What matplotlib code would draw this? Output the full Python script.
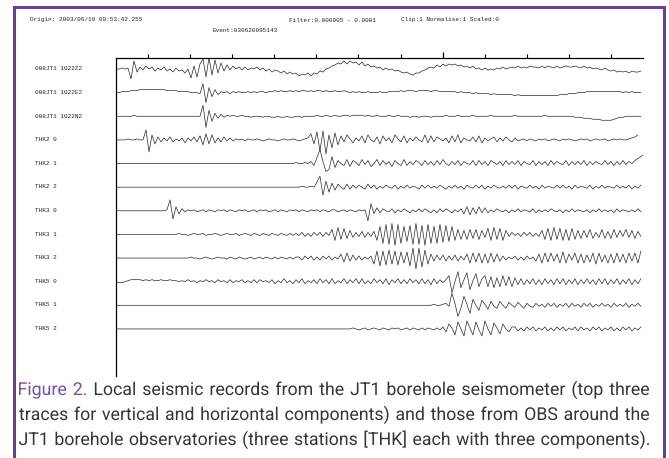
import numpy as np
import matplotlib
matplotlib.use("Agg")
import matplotlib.pyplot as plt
from matplotlib.patches import Rectangle, PathPatch
from matplotlib.textpath import TextPath
from matplotlib.font_manager import FontProperties
from matplotlib.transforms import Affine2D

W, H = 669, 458

# ---------------- header / labels ----------------
header_origin = "Origin: 2003/06/19 09:53:42.255"
header_filter = "Filter:0.000005 - 0.0001"
header_clip = "Clip:1 Normalise:1 Scaled:0"
header_event = "Event:030620095143"

trace_labels = ["008JT1 1022Z2", "008JT1 1022E2", "008JT1 1022N2",
                "THK2 0", "THK2 1", "THK2 2",
                "THK3 0", "THK3 1", "THK3 2",
                "THK5 0", "THK5 1", "THK5 2"]

caption_lines = [
    [("Figure 2.", "purple"), ("Local seismic records from the JT1 borehole seismometer (top three", "text")],
    [("traces for vertical and horizontal components) and those from OBS around the", "text")],
    [("JT1 borehole observatories (three stations [THK] each with three components).", "text")],
]

# time axis (s)
t_start = 2.4
dt = 0.7126
tick_times = [10, 20, 30, 40, 50, 60, 70, 80, 90, 100, 110, 120]
long_tick = 80

# ---------------- traces (amplitude; up = positive) ----------------
tr_jt1_z = [0, 0, 1, 0, 1, -10, 8, -3,
            2, -1, 3, 0, 2, -2, 1, -1, 2, -2, 0, -3, 1, -2, -1, -4, 0,
            -9, 3, -8, 5, 10, -8, 11, -6, 9, -4,
            6, -2, 4, -1, 3, 0, 2, -1, 2, -1, 1,
            0, 2, -1, 1, -2, 0, -3, -1, -2, -4, -2, -5, -3, -5, -4, -7, -5, -6,
            -4, -7, -4, -5, -2, -3, 0, 1, 3, 4, 6, 5,
            8, 5, 8, 6, 7, 4, 7, 3, 5, 2, 3, 1, 2, -1, 1,
            -1, 0, -2, -1, -3, -4, -3, -5, -6, -4,
            -4, -2, -1, 1, 2, 1, 4, 2, 5, 3, 5, 4, 5, 3, 4,
            2, 3, 1, 3, 0, 1, -1, 1, -1, 0, -1, 1, 0, 2, 0, 1, 2, 1, 3, 1,
            2, 1, 3, 2, 2, 1, 3, 1, 3, 2, 1, 3, 1, 2, 3, 2, 2, 3, 2, 1, 3, 1, 2, 0, 1,
            0, -1, 1, -1, -2, -1, -3, -2, -3, -2, -4, -2, -3, -3, -2]

tr_jt1_e = [0, 0, 1, 1, 1, 2, 2, 2, 3, 3, 3, 3, 3, 3, 3,
            3, 3, 2, 2, 2, 2, 1, 1, 1, 1, 0, 0, 0, -1,
            9, -10, 5, -4, 3, -2,
            1, 0, 1, -1, 1, 0, 1, 0, 0, 1, 0, 1, 0, 1, 1, 0, 1, 1, 2, 1, 2, 1, 1, 2, 1, 2,
            1, 2, 2, 1, 2, 1, 2, 2, 1, 2, 1, 1, 2, 1, 1, 2, 1, 0, 1, 0, 1, 0, 0, 1, 0,
            0, 0, 1, 0, 0, 1, 1, 1, 1, 2, 1, 2, 2, 2, 1, 2, 2, 2, 2, 1, 2, 2, 1, 1, 1,
            1, 1, 1, 0, 1, 0, 0, 0, -1, 0, -1, -1, -1, -1, -2, -1, -2, -2, -2, -2, -2, -2,
            -3, -2, -3, -3, -3, -3, -3, -3, -3, -3, -3, -3, -3,
            -3, -3, -2, -2, -2, -1, -1, -1, 0, 0, 0, 1, 1, 1, 1, 1, 1, 1, 1, 1, 1, 1, 1,
            0, 1, 0, 1, 0, 0, 0]

tr_jt1_n = [0, 0, 0, 0, 0, 0, 1, 0, 0, 0, 0, 0, 0, 0, 0, 0, 0, 0, 0, 0,
            0, 0, 0, 0, 0, 0, 0, 0, 0,
            11, -11, 6, -5, 3, -2, 2, -1,
            1, 0, 1, 0, 0, 1, 0, 0, -1, 0, 0, 0, -1, 0, 0, -1, -1, 0, -1, -1,
            0, -1, -1, 0, 0, -1, 0, 0, 0, 0, 1, 0, 0, 1, 0, 0, 1, 0, 0, 1, 1, 0, 1, 1,
            1, 1, 0, 1, 0, 0, 1, 0, 0, 0, 1, 0, 0, 1, 0, 0, 0, -1, 0, 0,
            -1, 0, 0, 0, -1, 0, 0, 0, 0, 1, 0, 0, 0, 1, 0, 0, 0, 0, 1, 0,
            0, 0, 0, 0, 1, 0, 0, 0, 0, 0, 0, 0, 1, 0, 0, 0, 0, 0, 0, 0,
            0, 0, 1, 0, 0, 0, 0, 0, 0, 0,
            0, 0, -1, -1, -1, -2, -2, -2, -3, -3, -3, -4, -4, -4, -4, -3,
            -2, -1, -1, 0, 0, 0, 0, 0, 0]

tr_thk2_0 = [0, 0, 0, 0, 1, 0, 0, 1, 0, 0,
             10, -12, 5, -4, 3,
             -2, 2, -1, 3, -2, 1, -1, 2, -3, 2, -1, 3, -2, 4,
             -5, 6, -4, 5, -3,
             2, -2, 3, -1, 2, -1, 1, 0, 1, -1, 1, 0,
             0, 1, 0, -1, 0, 1, 0, 0, -1, 0, 1, 0, 0, 1, 0, -1, 0, 1, 2,
             6, -4, 8, -11, 9, -14, 5, -8, 7, -5,
             4, -2, 5, 1, -3, 2, -1, 4, -3, 5, 0, -2, 3, -4, 4, -1, 2, -3, 5, 1,
             -2, 4, -3, 2, -1, 3, 0, -2, 5, -3, 4, -2, 3, 1, -1, 2, -3, 4, -2, 5,
             -3, 2, 0, -1, 3, -2, 4, -3, 2, -1, 1, 3, -2, 2, -1, 3, 0, -2, 2, -1,
             0, 1, -1, 1, 0, -1, 1, 0, 1, -1, 0, 1, 0, -1, 1, 0, 1, 0, -1, 0,
             1, 0, 1, -1, 0, 1, 0, 0, 1, -1, 0, 1, 0, 1, 0,
             0, 1, 2, 3, 5]

tr_thk2_1 = [0, 0, 0, 0, 0, 0, 0, 0, 0, 0, 0, 0, 0, 0, 0, 0, 0, 0, 0, 0,
             0, 0, 0, 0, 0, 0, 0, 0, 0, 0, 0, 0, 0, 0, 0, 0, 0, 0, 0, 0,
             0, 0, 0, 0, 0, 0, 0, 0, 0, 0, 0, 0, 0, 0, 0, 0, 0, 0, 0, 0,
             1, 0, 0, 1, 0,
             2, -2, 6, 14, 2, -8, -6, 7, -4,
             3, 0, -2, 4, -3, 3, 1, -2, 4, -1, 3, -3, 0, 4, -2, 3, -1, 2, -3, 3,
             0, -2, 4, -2, 2, -1, 3, 1, -2, 3, -1, 2, -2, 3, -1, 4, 0, -2, 2, -1,
             3, -2, 2, 0, -1, 3, -2, 3, -1, 2, -2, 3, 1, -1, 2, -2, 3, -1, 2, -1,
             3, -2, 2, 0, -1, 3, -2, 2, -1, 2, -2, 3, -1, 2, 0, -1, 3, -2, 2, -1,
             2, -1, 3, -2, 2, -1, 2, 0, -1, 3, -1, 2, -2, 2, -1, 3, -1, 2, 0, 3,
             5, 7, 9]

tr_thk2_2 = [0, 0, 0, 0, 0, 0, 0, 0, 0, 0, 0, 0, 0, 0, 0, 0, 0, 0, 0, 0,
             0, 0, 0, 0, 0, 0, 0, 0, 0, 0, 0, 0, 0, 0, 0, 0, 0, 0, 0, 0,
             0, 0, 0, 0, 0, 0, 0, 0, 0, 0, 0, 0, 0, 0, 0, 0, 0, 0, 0, 0,
             0, 0, 1, 0, 0, 1, 0,
             5, 11, -8, 6, -5, 4,
             -3, 3, 0, -2, 3, -2, 2, -1, 2, 0, -2, 3, -1, 2, -2, 1, -1, 2, 0, -1,
             2, -2, 1, -1, 2, -1, 1, 0, -2, 2, -1, 2, -1, 1, -1, 2, 0, -2, 1, -1,
             2, -1, 1, -2, 2, 0, -1, 2, -1, 2, -2, 1, -1, 2, 0, -1, 1, -1, 2, -1,
             2, -2, 1, 0, -1, 2, -1, 1, -2, 2, -1, 1, 0, -1, 2, -1, 2, -1, 1, -2,
             2, -1, 1, 0, -1, 2, -2, 1, -1, 2, -1, 1, 0, -1, 2, -1, 1, -1, 2, -2,
             1, -1, 2]

tr_thk3_0 = [0, 0, 0, 0, 0, 0, 0, 0, 0, 0, 0, 0, 0, 0, 0, 0, 0,
             1, 11, -8, 4, -3, 2,
             -1, 1, 0, 1, -1, 0, 1, -1, 1, 0, -1, 1, 0, 1, -1, 1, 0, -1, 1, 0,
             1, -1, 0, 1, -1, 1, 0, 1, -1, 0, 1, -1, 1, 0, -1, 1, 0, 1, -1, 1,
             0, -1, 1, 0, 1, -1, 1, 0, -1, 1, 1, -1, 0, 1, -1, 1, 0, -1, 1, 0, 1,
             -10, 7, -3, 3,
             -2, 2, 0, -1, 2, -2, 1, -1, 2, 0, -2, 1, -1, 2, -1, 2, 0, -2, 1, -2,
             2, -1, 2, 0, -2, 1, -1, 2,
             -3, 4, -4, 3, -3, 4, -2, 3,
             -2, 1, -1, 2, 0, -1, 1, -2, 1, -1, 2, -1, 1, 0, -1, 2, -2, 1, -1, 1,
             -1, 2, 0, -1, 1, -2, 1, -1, 2, -1, 1, 0, -1, 1, -2, 1, -1, 2, -1, 1,
             -1, 1, -2, 2, -1, 1, 0, -1, 1, -1, 2, -1]

tr_thk3_1 = [0, 0, 0, 0, 0, 0, 0, 0, 0, 0, 0, 0, 0, 0, 0, 0, 0, 0, 0, 0,
             0, 1, 0, 0, -1, 0, 1, 0, 0, 1, -1, 0, 0, 1, 0, -1, 0, 1, 0, 0,
             1, -1, 0, 1, 0, -1, 1, 0, -1, 1, 0, -1, 1, 0, -1, 1, 0, -1, 1, -1, 1,
             -1, 2, -2, 1, -2, 2, -1, 2, -2, 2, -1,
             5, -6, 7, -5, 6, -4, 4,
             -3, 2, -2, 3, -3, 2, -2, 3,
             -6, 8, -9, 10, -10, 11, -11, 10, -9, 8, -7, 9, -10, 11, -10, 9, -11, 10,
             -9, 8, -9, 10, -8, 9, -7, 8, -6, 5, -5,
             4, -5, 5, -4, 5, -5, 4, -3,
             6, -6, 7, -5, 6, -6, 4,
             -2, 2, -1, 1, -2, 2, -1, 2, -2, 1, -2,
             4, -5, 6, -6, 7, -5, 6, -6, 5, -6, 6, -5, 4, -4,
             4, -3, 5, -4, 2, -3, 5, -4, 3, -4, 5, -3, 4, -2, 5, -3, 4, -4, 3, -2]

tr_thk3_2 = [0, 0, 0, 0, 0, 0, 0, 0, 0, 0, 0, 0, 0, 0, 0, 0, 0, 0, 0, 0,
             0, 0, 0, 0, 0, 1, 0, 0, -1, 0, 1, 0, -1, 0, 1, 0, 0, -1, 1, 0,
             -1, 1, 0, -1, 0, 1, -1, 0, 1, -1, 1, 0, -1, 1, -1, 1, 0, -1, 1, -1, 1,
             1, -2, 2, -1, 2, -2, 1, -2, 2, -1, 2, -2, 1, -1,
             4, -4, 5, -3, 3,
             -2, 2, -2, 1, -1, 2,
             -6, 7, -8, 7, -7, 8, -6, 7, -7, 6, -5, 6,
             -8, 10, -11, 10, -9, 8, -6,
             4, -3, 3, -2, 3, -3, 2, -2, 3, -3, 2, -2,
             4, -5, 5, -4, 5, -5, 4, -5, 5, -4, 4, -3,
             2, -2, 1, -1, 2, -2, 1, -2, 2, -1, 1,
             -3, 4, -5, 5, -4, 5, -3, 4, -5, 6, -5, 4, -2, 5, -5, 4, -5, 3,
             -4, 5, -6, 5, -4, 3, -5, 4, -5, 5, -4, 4, -5, 5, -3, 5, -5, 7]

tr_thk5_0 = [0, -1, -1, 0,
             1, 2, 2, 2, 2, 1, 2, 1, 2, 1, 1, 2, 1, 1, 2, 1, 1,
             0, 1, 0, 2, 0, 1, -1, 1, 0, 2, 0, 1, -1, 2, 0, 1, -1, 2, -1, 1,
             0, 2, -1, 1, -1, 2, -1, 2, 0, 1, -1, 2, -2, 1, -1, 3, -1, 1, -2, 2,
             -1, 3, -2, 1, -1, 2, -2, 3, -1, 2, -2, 3, -2, 1, -1, 3, -2, 2, -1, 3,
             -2, 3, -2, 1, -2, 3, -1, 2, -2, 3, -3, 2, -1, 3, -2, 2, -2, 3, -1, 2,
             -2, 3, -2, 2, -3, 3, -2, 2, -1, 2,
             6, -11, 0, 10, -6, 2, 9, -8, 1, 8, -5, 3, 6,
             -5, 5, -6, 4, -5, 6, -4, 5, -5, 4, -3,
             3, -3, 2, -2, 3, -3, 2, -3, 3, -2, 2, -3, 3, -2, 3, -3, 2, -2, 3, -3,
             2, -2, 3, -2, 2, -3, 3, -2, 3, -3, 2, -2, 3, -3, 2, -2, 3, -3, 2, -2, 3]

tr_thk5_1 = [0, 0, 0, 0, 0, 0, 0, 0, 0, 0, 0, 0, 0, 0, 0, 0, 0, 0, 0, 0,
             0, 0, 0, 0, 0, 0, 0, 0, 0, 0, 0, 0, 0, 0, 0, 0, 0, 0, 0, 0,
             0, 0, 0, 0, 0, 0, 0, 0, 0, 0, 0, 0, 0, 0, 0, 0, 0, 0, 0, 0,
             0, 0, 0, 0, 0, 0, 0, 0, 0, 0, 0, 0, 0, 0, 0, 0, 0, 0, 0, 0,
             0, 0, 0, 0, 0, 0, 0, 0, 0, 0, 0, 0, 0, 0, 0, 0, 0, 0, 0, 0,
             0, 0, 0, 0, 0, 0, 1, 0, 0,
             1, 2, -1, 12, 2, -11, -3, 9, 1, -8, 6, 0, -5, 5, 1, -4, 4, -1, -3, 4,
             0, -3, 3, 0, -2, 3, 0, -3, 2, -1, -2,
             2, -1, 1, -2, 2, -1, 2, -2, 1, -1, 2, -2, 2, -1, 1, -2, 2, -1, 2, -2,
             1, -1, 2, -1, 1, -2, 2, -1, 1, -1, 2, -2, 1, -1, 2, -1]

tr_thk5_2 = [0, 0, 0, 0, 0, 0, 0, 0, 0, 0, 0, 0, 0, 0, 0, 0, 0, 0, 0, 0,
             0, 0, 0, 0, 0, 0, 0, 0, 0, 0, 0, 0, 0, 0, 0, 0, 0, 0, 0, 0,
             0, 0, 0, 0, 0, 0, 0, 0, 0, 0, 0, 0, 0, 0, 0, 0, 0, 0, 0, 0,
             0, 0, 0, 0, 0, 0, 0, 0, 0, 0, 0, 0, 0, 0, 0, 0, 0, 0,
             0, 1, 0, -1, 0, 1, -1, 0, 1, 0, -1, 1, 0, -1, 1, 0, 1, -1, 0, 1,
             -1, 1, 0, -1, 1, -1, 1, 0, -1, 1, -1, 2,
             -3, 5, 1, -6, 7, 0, -7, 8, 1, -6, 7, -1, -7, 8, 0, -6, 6, 1, -5, 5,
             0, -3, 2,
             2, -2, 1, -2, 2, -1, 2, -2, 1, -1, 2, -2, 1, -2, 2, -1, 2, -2, 1, -1,
             2, -2, 2, -1, 1, -2, 2, -1, 2, -2, 1, -1, 2, -2, 1, -2, 2, -1, 2, -2,
             1, -1, 2]

traces = [tr_jt1_z, tr_jt1_e, tr_jt1_n,
          tr_thk2_0, tr_thk2_1, tr_thk2_2,
          tr_thk3_0, tr_thk3_1, tr_thk3_2,
          tr_thk5_0, tr_thk5_1, tr_thk5_2]

# ---------------- style ----------------
PURPLE = "#6a3d9e"
PURPLE_TXT = "#7a4fae"
TEXT_C = "#363636"
TRACE_C = "#282828"
MONO = ["Liberation Mono", "DejaVu Sans Mono"]
CAP_FONT = ["Roboto", "DejaVu Sans"]
CAP_WEIGHT = "normal"

fig = plt.figure(figsize=(W / 100, H / 100), dpi=100)
fig.patch.set_facecolor("white")


def fx(px):
    return px / W


def fy(py):
    return 1 - py / H


# border (left, top, right)
for (x0, y0, x1, y1) in [(13, 6, 16, 458), (13, 6, 666, 9), (663, 6, 666, 458)]:
    fig.add_artist(Rectangle((fx(x0), fy(y1)), fx(x1) - fx(x0), fy(y0) - fy(y1),
                             transform=fig.transFigure, facecolor=PURPLE,
                             edgecolor="none"))

# axes
ax_left, ax_right, ax_top, ax_bottom = 116, 643, 58, 376
ax = fig.add_axes([fx(ax_left), fy(ax_bottom), fx(ax_right) - fx(ax_left),
                   fy(ax_top) - fy(ax_bottom)])
spacing = 23.6
ax.set_xlim(2.4, 127.6)
ax.set_ylim(spacing * 11 + 47, -11)
for i, tr in enumerate(traces):
    t = t_start + dt * np.arange(len(tr))
    ax.plot(t, i * spacing - np.asarray(tr, dtype=float), color=TRACE_C, lw=0.5)

for s in ["right", "bottom"]:
    ax.spines[s].set_visible(False)
for s in ["top", "left"]:
    ax.spines[s].set_linewidth(0.9)
    ax.spines[s].set_color("black")
ax.xaxis.tick_top()
ax.set_xticks([t for t in tick_times if t != long_tick])
ax.set_xticks([long_tick], minor=True)
ax.tick_params(axis="x", which="major", direction="out", length=3, width=0.8, color="black",
               labeltop=False, labelbottom=False)
ax.tick_params(axis="x", which="minor", direction="out", length=4.2, width=0.9, color="black",
               labeltop=False, labelbottom=False)
ax.set_yticks([])

# header texts
fs_small = 4.3
fig.text(fx(30), fy(20), header_origin, fontsize=fs_small, family=MONO, va="center", color="#222")
fig.text(fx(289), fy(20), header_filter, fontsize=fs_small, family=MONO, va="center", color="#222")
fig.text(fx(401), fy(20), header_clip, fontsize=fs_small, family=MONO, va="center", color="#222")
fig.text(fx(213), fy(31), header_event, fontsize=fs_small, family=MONO, va="center", color="#222")

for i, lab in enumerate(trace_labels):
    fig.text(fx(35), fy(ax_top + 11 + i * spacing), lab, fontsize=fs_small, family=MONO,
             va="center", color="#222")

# caption (justified, glyph outlines placed on exact baselines)
cap_x0, cap_x1 = 19, 649
baselines = [395, 420, 445]
fp = FontProperties(family=CAP_FONT, weight=CAP_WEIGHT)


def words_of(line):
    out = []
    for seg, kind in line:
        for w in seg.split(" "):
            out.append((w, PURPLE_TXT if kind == "purple" else TEXT_C))
    return out


s0 = 16.0
natural = [TextPath((0, 0), " ".join(w for w, _ in words_of(l)), size=s0, prop=fp).get_extents().width
           for l in caption_lines]
size_px = s0 * (cap_x1 - cap_x0) / max(natural) * 0.985

l_right = TextPath((0, 0), "l", size=size_px, prop=fp).get_extents().x1


def advance(w):
    return TextPath((0, 0), w + "l", size=size_px, prop=fp).get_extents().x1 - l_right


for line, yb in zip(caption_lines, baselines):
    ws = words_of(line)
    paths = [TextPath((0, 0), w, size=size_px, prop=fp) for w, _ in ws]
    advs = [advance(w) for w, _ in ws]
    o_first = cap_x0 - paths[0].get_extents().x0
    o_last = cap_x1 - paths[-1].get_extents().x1
    gap = (o_last - o_first - sum(advs[:-1])) / (len(ws) - 1)
    x = o_first
    for (w, c), p, a in zip(ws, paths, advs):
        tr = Affine2D().translate(x, H - yb)
        fig.add_artist(PathPatch(p, transform=tr, facecolor=c, edgecolor="none", lw=0))
        x += a + gap

fig.savefig("out.png", dpi=100, facecolor="white")
